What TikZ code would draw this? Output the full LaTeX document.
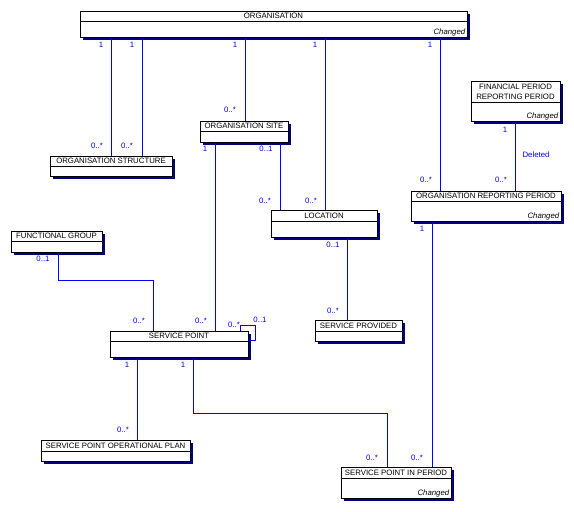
\documentclass[tikz,border=0pt]{standalone}
\usepackage{fontspec}
\setmainfont{Liberation Sans}
\usetikzlibrary{shadows}
\definecolor{shadowc}{RGB}{0,0,128}
\definecolor{linec}{RGB}{0,0,255}
\tikzset{
  ebox/.style={draw=black, line width=0.9pt, fill=white, inner sep=0pt,
    general shadow={shadow xshift=3pt, shadow yshift=-3pt, fill=shadowc}},
  etitle/.style={font=\fontsize{7.8}{10}\selectfont, text=black, inner sep=0pt, align=center},
  chg/.style={font=\fontsize{7.8}{9}\selectfont\itshape, text=black, inner sep=0pt},
  conn/.style={draw=linec, line width=0.9pt},
  mult/.style={font=\fontsize{7.8}{9}\selectfont, text=linec, inner sep=0pt}
}
\newcommand{\entity}[7]{%
  \node[ebox, anchor=north west, minimum width={(#4-#2)*1pt}, minimum height={(#6-#3)*1pt}] (#1) at (#2,#3) {};
  \draw[line width=0.9pt] (#2,#5) -- (#4,#5);
  \node[etitle] (#1-t) at ({(#2+#4)/2},{(#3+#5)/2}) {#7};
}
\newcommand{\changed}[1]{%
  \node[chg, anchor=south east] (#1-c) at ([xshift=-2.5pt, yshift=2pt]#1.south east) {Changed};
}
\begin{document}
\begin{tikzpicture}[x=1pt,y=-1pt]
\useasboundingbox[fill=white] (0,0) rectangle (574,512);

% entities
\entity{org}{80}{11}{467}{21}{37}{ORGANISATION}
\changed{org}
\entity{ostr}{50}{156}{172}{166}{176}{ORGANISATION STRUCTURE}
\entity{osite}{200}{121}{288}{131}{142}{ORGANISATION SITE}
\entity{loc}{271}{210}{377}{221}{237}{LOCATION}
\entity{orp}{411}{191}{561}{201}{221}{ORGANISATION REPORTING PERIOD}
\changed{orp}
\entity{fprp}{471}{81}{560}{102}{121}{FINANCIAL PERIOD\\REPORTING PERIOD}
\changed{fprp}
\entity{fg}{11}{231}{102}{241}{252}{FUNCTIONAL GROUP}
\entity{sp}{110}{331}{248}{341}{357}{SERVICE POINT}
\entity{spop}{41}{440}{190}{451}{461}{SERVICE POINT OPERATIONAL PLAN}
\entity{spip}{341}{467}{451}{478}{498}{SERVICE POINT IN PERIOD}
\changed{spip}
\entity{sprov}{315}{320}{402}{331}{341}{SERVICE PROVIDED}

% connectors
\draw[conn] (org.south -| 111,0) -- (ostr.north -| 111,0);
\draw[conn] (org.south -| 142,0) -- (ostr.north -| 142,0);
\draw[conn] (org.south -| 245,0) -- (osite.north -| 245,0);
\draw[conn] (org.south -| 325,0) -- (loc.north -| 325,0);
\draw[conn] (org.south -| 440,0) -- (orp.north -| 440,0);
\draw[conn] (osite.south -| 280,0) -- (loc.north -| 280,0);
\draw[conn] (osite.south -| 215,0) -- (sp.north -| 215,0);
\draw[conn] (fprp.south -| 515,0) -- (orp.north -| 515,0);
\draw[conn] (loc.south -| 347,0) -- (sprov.north -| 347,0);
\draw[conn] (fg.south -| 58,0) -- (58,280) -| (sp.north -| 153,0);
\draw[conn] (sp.north -| 240,0) |- (255,325) |- (sp.east |- 0,340);
\draw[conn] (sp.south -| 137,0) -- (spop.north -| 137,0);
\draw[conn] (sp.south -| 193,0) -- (193,413) -| (spip.north -| 387,0);
\draw[conn] (orp.south -| 432,0) -- (spip.north -| 432,0);

% multiplicities
\node[mult] (m1) at (101,45) {1};
\node[mult] (m2) at (132,45) {1};
\node[mult] (m3) at (235,45) {1};
\node[mult] (m4) at (315,45) {1};
\node[mult] (m5) at (430,45) {1};
\node[mult] (m6) at (97,146) {0..*};
\node[mult] (m7) at (127,146) {0..*};
\node[mult] (m8) at (230,110) {0..*};
\node[mult] (m9) at (205,149) {1};
\node[mult] (m10) at (266,149) {0..1};
\node[mult] (m11) at (265,201) {0..*};
\node[mult] (m12) at (311,201) {0..*};
\node[mult] (m13) at (426,180) {0..*};
\node[mult] (m14) at (501,180) {0..*};
\node[mult] (m15) at (422,229) {1};
\node[mult] (m16) at (505,130) {1};
\node[mult] (del) at (536,155) {Deleted};
\node[mult] (m17) at (43,259) {0..1};
\node[mult] (m18) at (139,321) {0..*};
\node[mult] (m19) at (201,321) {0..*};
\node[mult] (m20) at (234,325) {0..*};
\node[mult] (m21) at (260,320) {0..1};
\node[mult] (m22) at (127,365) {1};
\node[mult] (m23) at (183,365) {1};
\node[mult] (m24) at (123,430) {0..*};
\node[mult] (m25) at (372,458) {0..*};
\node[mult] (m26) at (417,458) {0..*};
\node[mult] (m27) at (333,245) {0..1};
\node[mult] (m28) at (333,311) {0..*};
\end{tikzpicture}
\end{document}
